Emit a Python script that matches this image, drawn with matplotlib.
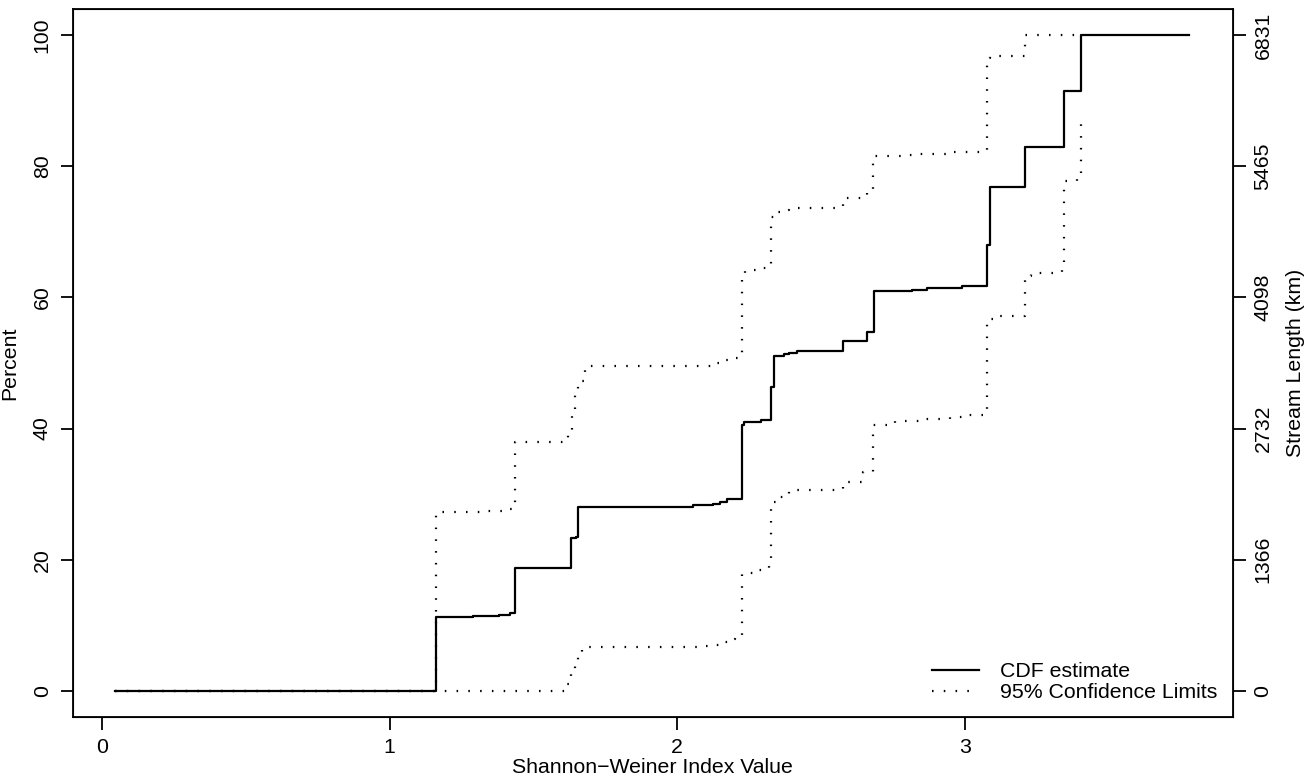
import matplotlib
matplotlib.use('Agg')
import matplotlib.pyplot as plt

plt.rcParams['font.family'] = ['Liberation Sans', 'DejaVu Sans']

# CDF estimate (step points: x where the step starts, percent after the step)
cdf_x = [0.047, 1.16, 1.29, 1.38, 1.42, 1.436, 1.631, 1.650, 1.657, 2.055, 2.126,
         2.149, 2.175, 2.225, 2.232, 2.292, 2.326, 2.337, 2.373, 2.390, 2.416,
         2.578, 2.660, 2.685, 2.818, 2.868, 2.990, 3.079, 3.089, 3.210, 3.344,
         3.404, 3.78]
cdf_y = [0, 11.2, 11.4, 11.6, 11.9, 18.8, 23.3, 23.5, 28.1, 28.3, 28.5,
         28.8, 29.2, 40.6, 41.0, 41.3, 46.3, 51.0, 51.3, 51.5, 51.9,
         53.3, 54.8, 61.0, 61.2, 61.4, 61.7, 68.0, 76.9, 83.0, 91.5,
         100, 100]

# upper 95% confidence limit
upper_x = [0.047, 1.16, 1.315, 1.40, 1.436, 1.622, 1.635, 1.645, 1.655, 1.68,
           2.13, 2.16, 2.19, 2.215, 2.225, 2.238, 2.30, 2.326, 2.34, 2.37,
           2.39, 2.578, 2.66, 2.683, 2.79, 2.83, 2.96, 3.079, 3.09, 3.21, 3.404]
upper_y = [0, 27.2, 27.5, 27.7, 38.0, 39.5, 42.8, 45.6, 47.2, 49.6,
           50.0, 50.4, 50.8, 51.3, 62.9, 64.2, 64.5, 72.2, 73.0, 73.4,
           73.6, 75.1, 76.5, 81.5, 81.7, 81.9, 82.2, 96.5, 96.8, 100, 100]

# lower 95% confidence limit
lower_x = [0.047, 1.616, 1.63, 1.645, 1.655, 1.67, 2.09, 2.127, 2.16, 2.19,
           2.20, 2.225, 2.263, 2.298, 2.32, 2.326, 2.35, 2.39, 2.578, 2.645,
           2.68, 2.757, 2.85, 2.95, 3.0, 3.079, 3.10, 3.21, 3.23, 3.339,
           3.344, 3.39, 3.404]
lower_y = [0, 1.0, 2.9, 3.9, 5.6, 6.7, 6.9, 7.0, 7.5, 7.9,
           8.2, 18.0, 18.4, 18.7, 19.3, 28.8, 29.6, 30.6, 31.9, 33.4,
           40.6, 41.1, 41.5, 41.7, 42.0, 56.7, 57.2, 63.2, 63.8, 64.2,
           77.7, 78.5, 86.9]

pct_ticks = [0, 20, 40, 60, 80, 100]
length_labels = ['0', '1366', '2732', '4098', '5465', '6831']
x_ticks = [0, 1, 2, 3]

fs = 15.3
dots = (0, (0.7, 4.6))
fig = plt.figure(figsize=(13.11, 7.82), dpi=100)
ax = fig.add_axes([0.0554, 0.0831, 0.8848, 0.9054])

ax.step(cdf_x, cdf_y, where='post', color='black', lw=1.6, label='CDF estimate')
ax.step(upper_x, upper_y, where='post', color='black', lw=1.6,
        linestyle=dots, label='95% Confidence Limits')
ax.step(lower_x, lower_y, where='post', color='black', lw=1.6, linestyle=dots)

ax.set_xlim(-0.102, 3.932)
ax.set_ylim(-4, 104)
ax.set_xticks(x_ticks)
ax.set_yticks(pct_ticks)
ax.set_yticklabels([str(v) for v in pct_ticks], rotation=90, va='center')
ax.tick_params(direction='out', length=9, width=1.3, labelsize=fs, pad=6)
for s in ax.spines.values():
    s.set_linewidth(1.3)
ax.set_xlabel('Shannon\u2212Weiner Index Value', fontsize=fs, labelpad=1)
ax.set_ylabel('Percent', fontsize=fs, labelpad=10)

ax2 = ax.twinx()
ax2.set_ylim(ax.get_ylim())
ax2.set_yticks(pct_ticks)
ax2.set_yticklabels(length_labels, rotation=90, va='center')
ax2.tick_params(direction='out', length=9, width=1.3, labelsize=fs, pad=6)
ax2.set_ylabel('Stream Length (km)', fontsize=fs, labelpad=10)

ax.legend(loc='lower right', frameon=False, fontsize=fs, handlelength=2.2,
          handletextpad=1.0, borderaxespad=0.3, labelspacing=0.1)

fig.savefig('out.png', dpi=100)
